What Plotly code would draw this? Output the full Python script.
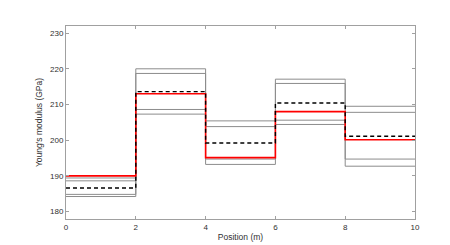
import plotly.graph_objects as go

positions = [0, 2, 4, 6, 8, 10]
sample_1 = [189.4, 220.0, 205.4, 217.1, 209.5]
sample_2 = [188.6, 218.7, 203.8, 215.9, 207.8]
sample_3 = [184.8, 208.6, 194.7, 205.6, 194.7]
sample_4 = [184.2, 207.3, 193.2, 204.4, 192.7]
true_values = [190.0, 213.0, 195.1, 208.0, 200.1]
mean_values = [186.6, 213.6, 199.2, 210.4, 201.1]
x_ticks = [0, 2, 4, 6, 8, 10]
y_ticks = [180, 190, 200, 210, 220, 230]


def stepped(vals):
    return list(vals) + [vals[-1]]


fig = go.Figure()
for s in [sample_1, sample_2, sample_3, sample_4]:
    fig.add_trace(go.Scatter(x=positions, y=stepped(s), mode="lines",
                             line=dict(color="#8c8c8c", width=1, shape="hv"),
                             showlegend=False, hoverinfo="skip"))
fig.add_trace(go.Scatter(x=positions, y=stepped(true_values), mode="lines",
                         line=dict(color="#ff0000", width=1.6, shape="hv"),
                         showlegend=False))
fig.add_trace(go.Scatter(x=positions, y=stepped(mean_values), mode="lines",
                         line=dict(color="#000000", width=1.4, shape="hv", dash="4px,3px"),
                         showlegend=False))

axis_common = dict(showgrid=False, zeroline=False, showline=True, linecolor="#a0a0a0",
                   linewidth=1, mirror="ticks", ticks="inside", ticklen=3,
                   tickcolor="#a0a0a0", tickwidth=1,
                   tickfont=dict(family="Liberation Sans, Arial", size=8, color="#303030"))

fig.update_xaxes(range=[0, 10], tickvals=x_ticks,
                 title=dict(text="Position (m)", standoff=3,
                            font=dict(family="Liberation Sans, Arial", size=8.5, color="#303030")),
                 **axis_common)
fig.update_yaxes(range=[177.9, 232], tickvals=y_ticks,
                 title=dict(text="Young's modulus (GPa)", standoff=6,
                            font=dict(family="Liberation Sans, Arial", size=8.5, color="#303030")),
                 **axis_common)

fig.update_layout(width=450, height=245, margin=dict(l=58, r=43, t=18, b=27),
                  plot_bgcolor="white", paper_bgcolor="white", showlegend=False)

fig.write_html("out.html")
